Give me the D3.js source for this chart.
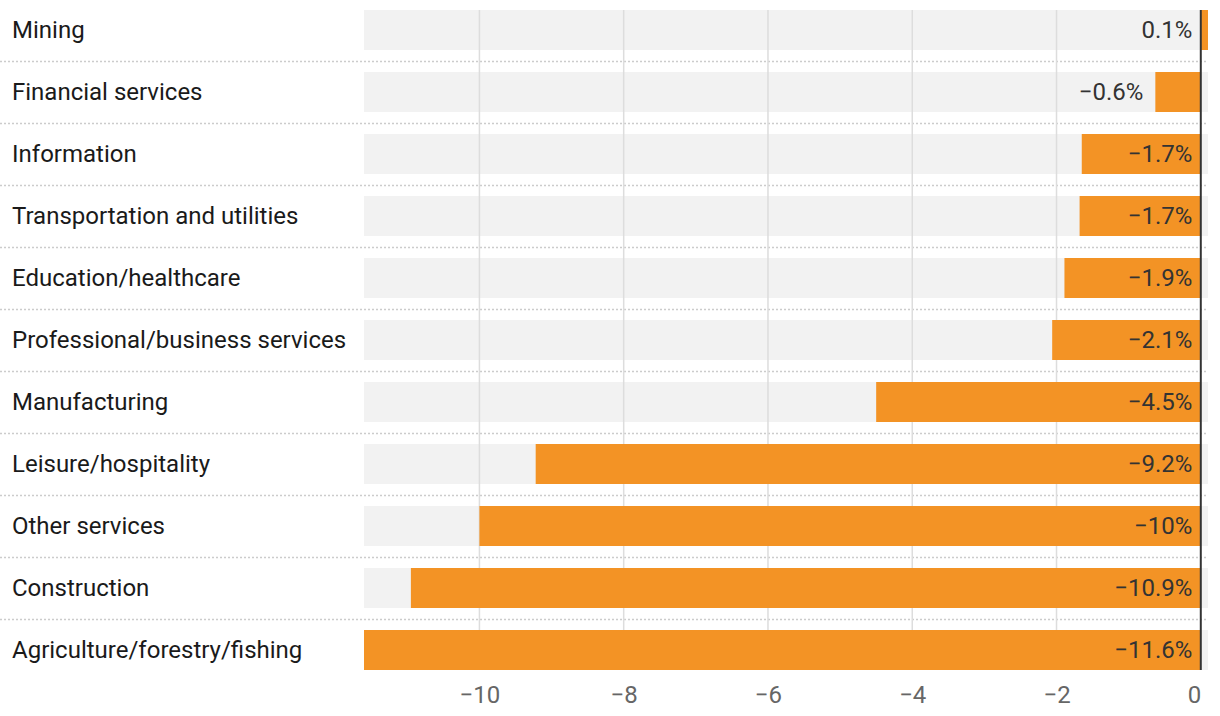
<!DOCTYPE html>
<html><head><meta charset="utf-8">
<script src="https://cdn.jsdelivr.net/npm/d3@7"></script>
<style>body{margin:0;background:#fff;}svg{display:block;font-family:Roboto,sans-serif;}</style>
</head><body><svg id="c" width="1220" height="716"></svg>
<script>
const categories = ["Mining","Financial services","Information","Transportation and utilities","Education/healthcare","Professional/business services","Manufacturing","Leisure/hospitality","Other services","Construction","Agriculture/forestry/fishing"];
const values = [0.1,-0.63,-1.65,-1.68,-1.89,-2.06,-4.5,-9.22,-10,-10.95,-11.6];
const valueLabels = ["0.1%","−0.6%","−1.7%","−1.7%","−1.9%","−2.1%","−4.5%","−9.2%","−10%","−10.9%","−11.6%"];
const ticks = [-10,-8,-6,-4,-2,0];

const svg = d3.select("#c");
const x = d3.scaleLinear().domain([-11.6, 0.1]).range([364, 1208]);
const y = d3.scaleBand().domain(categories).range([-1, 681]).paddingInner(22/62).paddingOuter(11/62);
const bh = y.bandwidth();
const gap = (y.step() - bh) / 2;
const FS = 24;

// separators
svg.append("g").selectAll("line").data(categories.slice(1)).join("line")
  .attr("x1",0).attr("x2",1208)
  .attr("y1",d=>y(d)-gap+0.5).attr("y2",d=>y(d)-gap+0.5)
  .attr("stroke","#ccc").attr("stroke-width",1.3).attr("stroke-dasharray","2,2");

// tracks
svg.append("g").selectAll("rect").data(categories).join("rect")
  .attr("x",x(-11.6)).attr("width",x(0.1)-x(-11.6))
  .attr("y",d=>y(d)).attr("height",bh).attr("fill","#f2f2f2");

// grid
svg.append("g").selectAll("line").data(ticks.filter(t=>t!==0)).join("line")
  .attr("x1",d=>x(d)).attr("x2",d=>x(d)).attr("y1",y(categories[0])).attr("y2",y(categories[10])+bh)
  .attr("stroke","#ddd").attr("stroke-width",1.5);

// bars
svg.append("g").selectAll("rect").data(values).join("rect")
  .attr("x",d=>x(Math.min(0,d))).attr("width",d=>Math.abs(x(d)-x(0)))
  .attr("y",(d,i)=>y(categories[i])).attr("height",bh).attr("fill","#f39325");

// zero line
svg.append("line").attr("x1",x(0)).attr("x2",x(0)).attr("y1",y(categories[0])).attr("y2",y(categories[10])+bh)
  .attr("stroke","#333").attr("stroke-width",2);

// category labels
svg.append("g").selectAll("text").data(categories).join("text")
  .attr("x",12).attr("y",d=>y(d)+bh/2).attr("dy","0.35em")
  .attr("font-size",FS).attr("fill","#1a1a1a").text(d=>d);

// value labels
const vl = svg.append("g").selectAll("text").data(valueLabels).join("text")
  .attr("y",(d,i)=>y(categories[i])+bh/2).attr("dy","0.35em")
  .attr("text-anchor","end").attr("font-size",FS).attr("fill","#333").text(d=>d);
vl.each(function(d,i){
  const w = this.getComputedTextLength();
  const v = values[i];
  const barW = x(0) - x(Math.min(0,v));
  const inside = v >= 0 || barW >= w + 16;
  d3.select(this).attr("x", inside ? x(0) - 8.5 : x(v) - 12);
});

// axis
const ax = svg.append("g").attr("transform","translate(0,678)")
  .call(d3.axisBottom(x).tickValues(ticks).tickSize(0).tickPadding(0).tickFormat(d=>d===0?"0":"−"+Math.abs(d)));
ax.select(".domain").remove();
ax.selectAll("text").attr("font-size",FS).attr("fill","#666").attr("font-family","Roboto,sans-serif").attr("dy","0.71em").attr("y",8)
  .attr("text-anchor",d=>d===0?"end":"middle");
</script></body></html>
